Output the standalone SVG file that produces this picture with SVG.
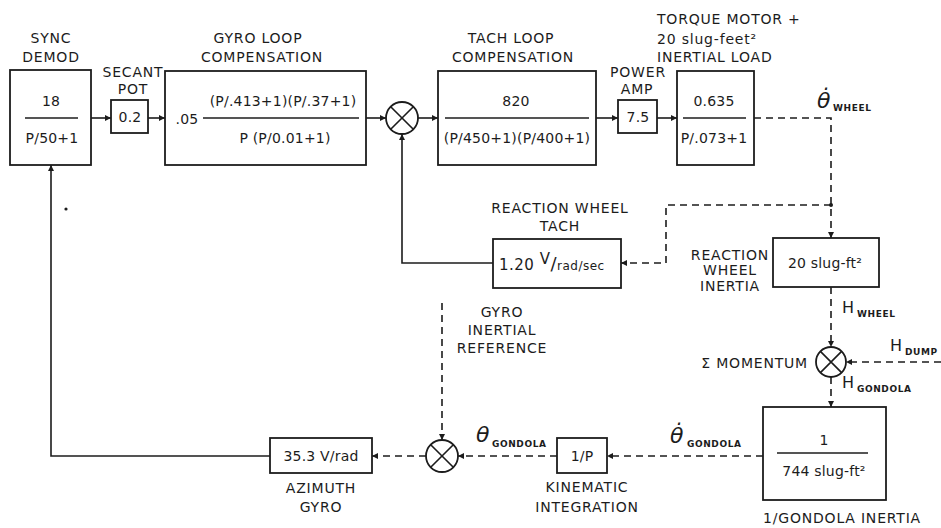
<svg xmlns="http://www.w3.org/2000/svg" width="941" height="528" viewBox="0 0 941 528">
<style>
text{font-family:"DejaVu Sans","Liberation Sans",sans-serif;fill:#1c1c1c}
.lbl{font-size:14px;letter-spacing:0.8px;text-anchor:middle}
.ll{font-size:14px;letter-spacing:0.8px}
.val{font-size:14px;letter-spacing:0.2px;text-anchor:middle}
.sub{font-size:9px;font-weight:bold;letter-spacing:0.6px}
.th{font-size:22px;font-style:italic}
.hh{font-size:16px}
.box{fill:#fff;stroke:#1c1c1c;stroke-width:1.8}
.frac{stroke:#1c1c1c;stroke-width:1.6}
.sum{fill:#fff;stroke:#1c1c1c;stroke-width:1.8}
.sumx{stroke:#1c1c1c;stroke-width:1.6}
.w{fill:none;stroke:#1c1c1c;stroke-width:1.6}
.d{fill:none;stroke:#1c1c1c;stroke-width:1.6;stroke-dasharray:7 5}
</style>
<defs>
<marker id="ah" viewBox="0 0 10 10" refX="10" refY="5" markerWidth="6" markerHeight="6" markerUnits="userSpaceOnUse" orient="auto">
<path d="M0,0 L10,5 L0,10 z" fill="#1c1c1c"/>
</marker>
</defs>
<rect width="941" height="528" fill="#fff"/>

<g id="connectors">
<path class="w" d="M91,118 H111" marker-end="url(#ah)"/>
<path class="w" d="M148,118 H165" marker-end="url(#ah)"/>
<path class="w" d="M366,118 H386" marker-end="url(#ah)"/>
<path class="w" d="M418,118 H438" marker-end="url(#ah)"/>
<path class="w" d="M596,118 H618" marker-end="url(#ah)"/>
<path class="w" d="M657,118 H677" marker-end="url(#ah)"/>
<path class="d" d="M754,118 H831 V238" marker-end="url(#ah)"/>
<path class="d" d="M831,205 H666 V263 H621" marker-end="url(#ah)"/>
<circle cx="831" cy="205" r="2" fill="#1c1c1c"/>
<path class="w" d="M493,263 H402 V134" marker-end="url(#ah)"/>
<path class="d" d="M831,287 V347" marker-end="url(#ah)"/>
<path class="d" d="M941,362 H846" marker-end="url(#ah)"/>
<path class="d" d="M831,377 V407" marker-end="url(#ah)"/>
<path class="d" d="M763,456 H607" marker-end="url(#ah)"/>
<path class="d" d="M557,456 H458" marker-end="url(#ah)"/>
<path class="d" d="M426,456 H372" marker-end="url(#ah)"/>
<path class="d" d="M442,303 V440" marker-end="url(#ah)"/>
<path class="w" d="M270,456 H51 V165" marker-end="url(#ah)"/>
</g>

<g id="sync-demod">
<rect class="box" x="10" y="70" width="81" height="95"/>
<text class="lbl" x="51" y="43">SYNC</text>
<text class="lbl" x="51" y="62">DEMOD</text>
<text class="val" x="51" y="106">18</text>
<line class="frac" x1="25" y1="118" x2="78" y2="118"/>
<text class="val" x="52" y="143">P/50+1</text>
</g>

<g id="secant-pot">
<rect class="box" x="111" y="100" width="37" height="33"/>
<text class="lbl" x="133" y="77">SECANT</text>
<text class="lbl" x="133" y="94">POT</text>
<text class="val" x="130" y="122">0.2</text>
</g>

<g id="gyro-loop">
<rect class="box" x="165" y="71" width="201" height="94"/>
<text class="lbl" x="258" y="43">GYRO LOOP</text>
<text class="lbl" x="262" y="62">COMPENSATION</text>
<text class="val" x="187" y="124">.05</text>
<line class="frac" x1="203" y1="118" x2="359" y2="118"/>
<text class="val" x="283" y="106">(P/.413+1)(P/.37+1)</text>
<text class="val" x="285" y="143">P (P/0.01+1)</text>
</g>

<g id="sum-1">
<circle class="sum" cx="402" cy="118" r="16"/>
<path class="sumx" d="M390.7,106.7 L413.3,129.3 M413.3,106.7 L390.7,129.3"/>
</g>

<g id="tach-loop">
<rect class="box" x="438" y="71" width="158" height="94"/>
<text class="lbl" x="511" y="43">TACH LOOP</text>
<text class="lbl" x="513" y="62">COMPENSATION</text>
<text class="val" x="516" y="106">820</text>
<line class="frac" x1="445" y1="118" x2="589" y2="118"/>
<text class="val" x="517" y="143">(P/450+1)(P/400+1)</text>
</g>

<g id="power-amp">
<rect class="box" x="618" y="100" width="39" height="33"/>
<text class="lbl" x="638" y="77">POWER</text>
<text class="lbl" x="637" y="94">AMP</text>
<text class="val" x="638" y="122">7.5</text>
</g>

<g id="torque-motor">
<rect class="box" x="677" y="71" width="77" height="94"/>
<text class="ll" x="657" y="24">TORQUE MOTOR +</text>
<text class="ll" x="657" y="44">20 slug-feet²</text>
<text class="ll" x="657" y="62">INERTIAL LOAD</text>
<text class="val" x="714" y="106">0.635</text>
<line class="frac" x1="683" y1="118" x2="746" y2="118"/>
<text class="val" x="714" y="143">P/.073+1</text>
<text class="th" x="817" y="108">θ̇</text>
<text class="sub" x="833" y="111">WHEEL</text>
</g>

<g id="reaction-wheel-tach">
<rect class="box" x="493" y="239" width="128" height="49"/>
<text class="lbl" x="560" y="213">REACTION WHEEL</text>
<text class="lbl" x="560" y="231">TACH</text>
<text x="499" y="270" style="font-size:15px;letter-spacing:0.5px">1.20 <tspan dy="-6">V</tspan><tspan dy="6" style="font-size:18px">/</tspan><tspan style="font-size:12px">rad/sec</tspan></text>
</g>

<g id="reaction-wheel-inertia">
<rect class="box" x="773" y="238" width="106" height="49"/>
<text class="lbl" x="730" y="260">REACTION</text>
<text class="lbl" x="730" y="275">WHEEL</text>
<text class="lbl" x="730" y="291">INERTIA</text>
<text class="val" x="825" y="268">20 slug-ft²</text>
<text class="hh" x="842" y="313">H</text>
<text class="sub" x="857" y="317">WHEEL</text>
</g>

<g id="sum-momentum">
<circle class="sum" cx="831" cy="362" r="15"/>
<path class="sumx" d="M820.4,351.4 L841.6,372.6 M841.6,351.4 L820.4,372.6"/>
<text class="ll" x="808" y="368" text-anchor="end">Σ MOMENTUM</text>
<text class="hh" x="890" y="351">H</text>
<text class="sub" x="905" y="355">DUMP</text>
<text class="hh" x="842" y="388">H</text>
<text class="sub" x="857" y="392">GONDOLA</text>
</g>

<g id="gondola-inertia">
<rect class="box" x="763" y="407" width="123" height="93"/>
<text class="val" x="824" y="445">1</text>
<line class="frac" x1="777" y1="453" x2="868" y2="453"/>
<text class="val" x="824" y="476">744 slug-ft²</text>
<text class="lbl" x="842" y="523">1/GONDOLA INERTIA</text>
<text class="th" x="670" y="443">θ̇</text>
<text class="sub" x="687" y="447">GONDOLA</text>
</g>

<g id="kinematic-integration">
<rect class="box" x="557" y="438" width="50" height="35"/>
<text class="val" x="582" y="461">1/P</text>
<text class="lbl" x="587" y="492">KINEMATIC</text>
<text class="lbl" x="587" y="512">INTEGRATION</text>
<text class="th" x="476" y="442">θ</text>
<text class="sub" x="492" y="447">GONDOLA</text>
</g>

<g id="sum-gyro">
<circle class="sum" cx="442" cy="456" r="16"/>
<path class="sumx" d="M430.7,444.7 L453.3,467.3 M453.3,444.7 L430.7,467.3"/>
<text class="lbl" x="502" y="317">GYRO</text>
<text class="lbl" x="502" y="335">INERTIAL</text>
<text class="lbl" x="502" y="353">REFERENCE</text>
</g>

<g id="azimuth-gyro">
<rect class="box" x="270" y="438" width="102" height="35"/>
<text class="val" x="321" y="461">35.3 V/rad</text>
<text class="lbl" x="321" y="493">AZIMUTH</text>
<text class="lbl" x="321" y="512">GYRO</text>
</g>

<circle cx="66" cy="209" r="1.6" fill="#1c1c1c"/>
</svg>
